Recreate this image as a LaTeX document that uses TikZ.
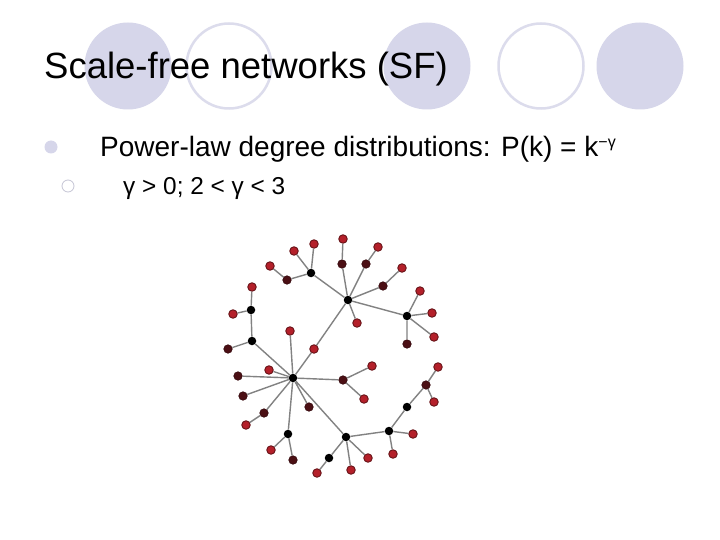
\documentclass[tikz,border=0pt]{standalone}
\usepackage{fontspec}
\setmainfont{Liberation Sans}
\definecolor{lav}{RGB}{214,214,234}
\definecolor{lavline}{RGB}{220,220,236}
\definecolor{edgecol}{RGB}{130,130,130}
\definecolor{leafred}{RGB}{180,32,42}
\definecolor{leafrim}{RGB}{105,20,25}
\definecolor{midred}{RGB}{75,15,20}
\begin{document}
\begin{tikzpicture}[x=1pt,y=-1pt,
  fdisc/.style={fill=lav,draw=none,circle,minimum size=87pt,inner sep=0pt},
  odisc/.style={draw=lavline,line width=2.5pt,fill=white,circle,minimum size=85pt,inner sep=0pt},
  txt/.style={anchor=base west,inner sep=0pt,text=black},
  leaf/.style={circle,inner sep=0pt,minimum size=8.5pt,fill=leafred,draw=leafrim,line width=0.9pt},
  mid/.style={circle,inner sep=0pt,minimum size=8.5pt,fill=midred,draw=midred!70!black,line width=0.6pt},
  hub/.style={circle,inner sep=0pt,minimum size=8.5pt,fill=black},
  edge/.style={draw=edgecol,line width=1.4pt}]
\useasboundingbox (0,0) rectangle (720,540);
\fill[white] (0,0) rectangle (720,540);
% decorative circles
\node[fdisc] (c1) at (128,66) {};
\node[odisc] (c2) at (229,66) {};
\node[fdisc] (c3) at (427,66) {};
\node[odisc] (c4) at (541,66) {};
\node[fdisc] (c5) at (640,66) {};
% title and bullets
\node[txt,font=\fontsize{36.5}{40}\selectfont] (title) at (44,79) {Scale-free networks (SF)};
\node[circle,fill=lav,inner sep=0pt,minimum size=13pt] (b1) at (51,147) {};
\node[txt,font=\fontsize{28}{32}\selectfont] (l1) at (100,157) {Power-law degree distributions: P(k) = k\raisebox{9pt}{\fontsize{16}{16}\selectfont −γ}};
\node[circle,draw=lav!80!gray,line width=0.8pt,inner sep=0pt,minimum size=12pt] (b2) at (68,186) {};
\node[txt,font=\fontsize{24.4}{28}\selectfont] (l2) at (123,195) {γ > 0; 2 < γ < 3};
% network nodes: hubs
\node[hub] (A) at (311,273) {};
\node[hub] (B) at (348,300) {};
\node[hub] (C) at (293,378) {};
\node[hub] (D) at (407,316) {};
\node[hub] (E) at (346,437) {};
\node[hub] (F) at (389,431) {};
\node[hub] (n1) at (252,341) {};
\node[hub] (n2) at (251,310) {};
\node[hub] (n3) at (288,434) {};
\node[hub] (n4) at (329,458) {};
\node[hub] (n5) at (407,407) {};
% intermediate nodes
\node[mid] (n6) at (426,385) {};
\node[mid] (n7) at (343,380) {};
\node[mid] (n8) at (342,264) {};
\node[mid] (n9) at (366,264) {};
\node[mid] (n10) at (383,286) {};
\node[mid] (n11) at (238,376) {};
\node[mid] (n12) at (243,396) {};
\node[mid] (n13) at (264,413) {};
\node[mid] (n14) at (228,349) {};
\node[mid] (n15) at (287,280) {};
\node[mid] (n16) at (407,344) {};
\node[mid] (n17) at (293,460) {};
\node[mid] (n18) at (309,407) {};
% leaves
\node[leaf] (r1) at (314,244) {};
\node[leaf] (r2) at (294,251) {};
\node[leaf] (r3) at (270,266) {};
\node[leaf] (r4) at (343,239) {};
\node[leaf] (r5) at (378,247) {};
\node[leaf] (r6) at (402,268) {};
\node[leaf] (r7) at (357,323) {};
\node[leaf] (r8) at (420,291) {};
\node[leaf] (r9) at (432,313) {};
\node[leaf] (r10) at (434,337) {};
\node[leaf] (r11) at (252,287) {};
\node[leaf] (r12) at (233,314) {};
\node[leaf] (r13) at (290,331) {};
\node[leaf] (r14) at (314,349) {};
\node[leaf] (r15) at (269,370) {};
\node[leaf] (r16) at (246,425) {};
\node[leaf] (r17) at (271,450) {};
\node[leaf] (r18) at (317,473) {};
\node[leaf] (r19) at (372,366) {};
\node[leaf] (r20) at (364,399) {};
\node[leaf] (r21) at (368,458) {};
\node[leaf] (r22) at (351,470) {};
\node[leaf] (r23) at (413,434) {};
\node[leaf] (r24) at (393,454) {};
\node[leaf] (r25) at (438,367) {};
\node[leaf] (r26) at (434,402) {};
% edges
\path[edge]
 (A)--(r1) (A)--(r2) (A)--(n15) (n15)--(r3) (A)--(B)
 (B)--(n8) (n8)--(r4) (B)--(n9) (n9)--(r5) (B)--(n10) (n10)--(r6)
 (B)--(r7) (B)--(D) (B)--(r14) (r14)--(C)
 (D)--(r8) (D)--(r9) (D)--(r10) (D)--(n16)
 (C)--(r13) (C)--(n1) (n1)--(n14) (n1)--(n2) (n2)--(r11) (n2)--(r12)
 (C)--(r15) (C)--(n11) (C)--(n12) (C)--(n18) (C)--(n13) (n13)--(r16)
 (C)--(n3) (n3)--(r17) (n3)--(n17) (C)--(n7) (n7)--(r19) (n7)--(r20) (C)--(E)
 (E)--(n4) (n4)--(r18) (E)--(r21) (E)--(r22) (E)--(F)
 (F)--(r23) (F)--(r24) (F)--(n5) (n5)--(n6) (n6)--(r25) (n6)--(r26);
\end{tikzpicture}
\end{document}
